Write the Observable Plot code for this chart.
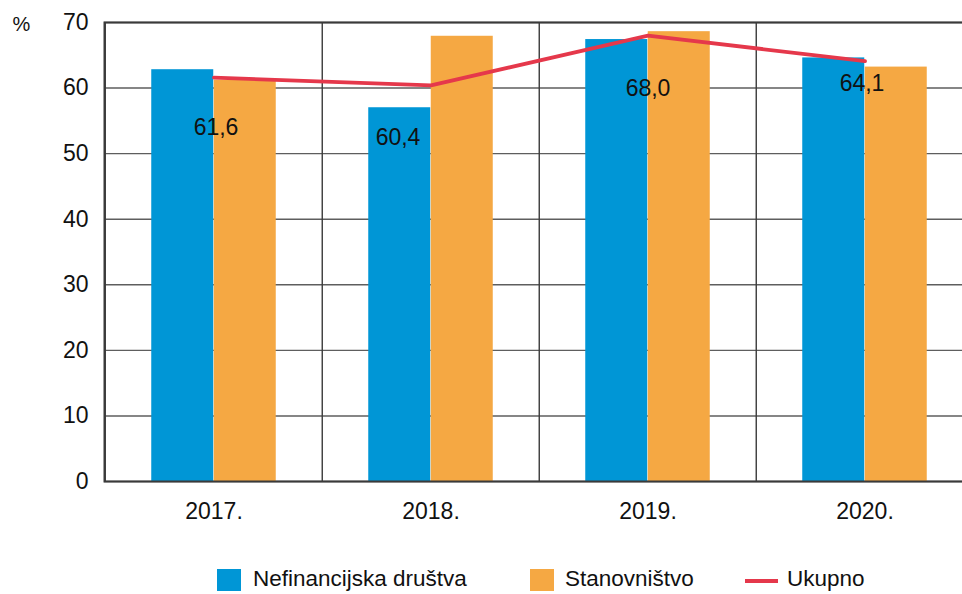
<!DOCTYPE html>
<html>
<head>
<meta charset="utf-8">
<script src="https://cdn.jsdelivr.net/npm/d3@7"></script>
<script src="https://cdn.jsdelivr.net/npm/@observablehq/plot@0.6"></script>
<style>
  html, body { margin: 0; padding: 0; background: #fff; overflow: hidden; }
  body { font-family: "Liberation Sans", Arial, Helvetica, sans-serif; }
  #wrap { position: relative; width: 962px; height: 594px; }
  #legend { position: absolute; left: 0; top: 0; width: 962px; height: 594px; pointer-events: none; }
  .sw { position: absolute; width: 24px; height: 22px; top: 569px; }
  .ln { position: absolute; width: 33px; height: 4px; top: 579px; }
  .lt { position: absolute; top: 566px; font-size: 22.5px; color: #111; line-height: 26px; white-space: nowrap; }
</style>
</head>
<body>
<div id="wrap"></div>
<script>
const years = ["2017.", "2018.", "2019.", "2020."];
const nefinancijska = [62.8, 57.0, 67.4, 64.6];
const stanovnistvo = [61.2, 67.9, 68.6, 63.2];
const ukupno = [61.6, 60.4, 68.0, 64.1];
const yTicks = [0, 10, 20, 30, 40, 50, 60, 70];
const seriesNames = ["Nefinancijska društva", "Stanovništvo", "Ukupno"];
const colors = ["#0096d6", "#f5a843", "#e5384b"];

const rowsN = years.map((y, i) => ({year: y, value: nefinancijska[i]}));
const rowsS = years.map((y, i) => ({year: y, value: stanovnistvo[i]}));
const rowsU = years.map((y, i) => ({year: y, value: ukupno[i], label: ukupno[i].toFixed(1).replace(".", ",")}));

const W = 962, ML = 104, MR = -12;
const band = (W - MR - ML) / years.length;
const half = band / 2;
const barW = 62.5;
const sideInset = half - barW;

// per-label placement tweaks (px)
const labelShift = [[2, 50], [-33, 52], [0, 53], [-3, 22]];

const font = "Liberation Sans, Arial, sans-serif";

const chart = Plot.plot({
  width: W,
  height: 541,
  marginLeft: ML,
  marginRight: MR,
  marginTop: 22,
  marginBottom: 60,
  style: {fontFamily: font, fontSize: "23px", color: "#111", background: "#fff", overflow: "hidden"},
  x: {domain: years, padding: 0, label: null},
  y: {domain: [0, 70], label: null},
  marks: [
    Plot.gridY(yTicks, {stroke: "#5e5e5e", strokeOpacity: 1, strokeWidth: 1.4}),
    Plot.ruleX(years, {x: d => d, dx: -half, stroke: "#3a3a3a", strokeWidth: 1.4}),
    Plot.barY(rowsN, {x: "year", y: "value", fill: colors[0], insetLeft: sideInset, insetRight: half}),
    Plot.barY(rowsS, {x: "year", y: "value", fill: colors[1], insetLeft: half, insetRight: sideInset}),
    Plot.frame({stroke: "#3a3a3a", strokeWidth: 2}),
    Plot.line(rowsU, {x: "year", y: "value", stroke: colors[2], strokeWidth: 3.8}),
    ...rowsU.map((d, i) => Plot.text([d], {x: "year", y: "value", text: "label", dx: labelShift[i][0], dy: labelShift[i][1], fill: "#111", fontSize: 23})),
    Plot.axisY(yTicks, {tickSize: 0, tickPadding: 16, fontSize: 23, fill: "#111"}),
    Plot.axisX({tickSize: 0, tickPadding: 21, fontSize: 23, fill: "#111"}),
    Plot.text(["%"], {frameAnchor: "top-left", textAnchor: "middle", dx: -83, dy: 2, fill: "#111", fontSize: 20, lineAnchor: "middle"})
  ]
});

const wrap = document.getElementById("wrap");
wrap.appendChild(chart);

const legend = document.createElement("div");
legend.id = "legend";
const items = [
  {type: "sw", left: 217, color: colors[0], text: seriesNames[0], tl: 253},
  {type: "sw", left: 530, color: colors[1], text: seriesNames[1], tl: 565},
  {type: "ln", left: 745, color: colors[2], text: seriesNames[2], tl: 787}
];
for (const it of items) {
  const s = document.createElement("div");
  s.className = it.type;
  s.style.left = it.left + "px";
  s.style.background = it.color;
  legend.appendChild(s);
  const t = document.createElement("div");
  t.className = "lt";
  t.style.left = it.tl + "px";
  t.textContent = it.text;
  legend.appendChild(t);
}
wrap.appendChild(legend);
</script>
</body>
</html>
